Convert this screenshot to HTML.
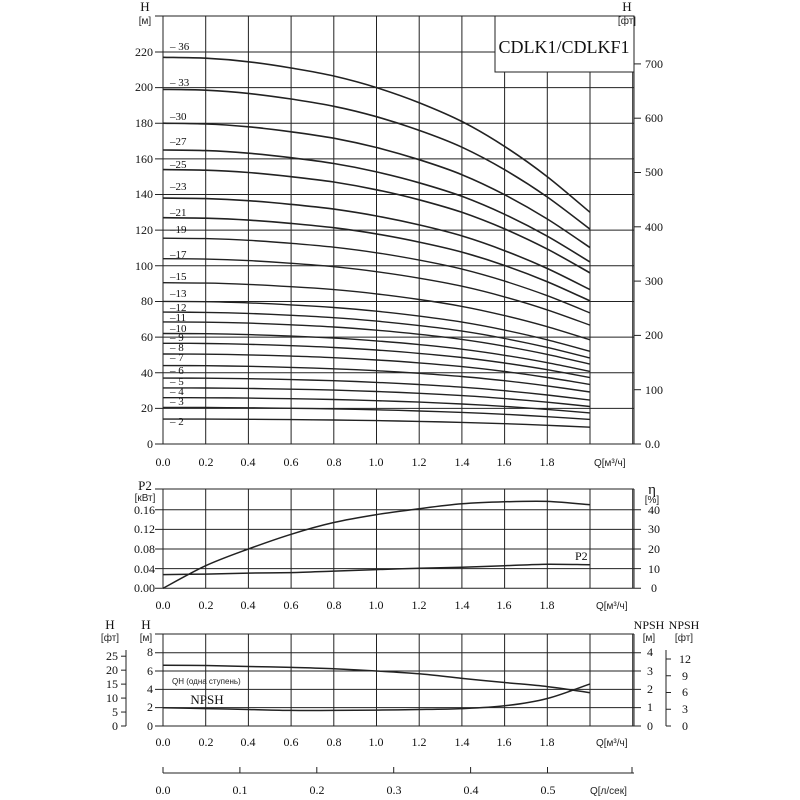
<!DOCTYPE html>
<html><head><meta charset="utf-8"><style>
body{margin:0;background:#fff}
svg{display:block}
.s{font-family:"Liberation Serif",serif;font-size:12px;fill:#111}
.a{font-family:"Liberation Sans",sans-serif;font-size:10px;fill:#222}
</style></head><body>
<svg id="c" width="800" height="800" viewBox="0 0 800 800" xmlns="http://www.w3.org/2000/svg">
<g id="g" stroke="#222" fill="none"></g>
<rect x="495" y="16" width="139" height="56" fill="#fff" stroke="#222" stroke-width="1"/>
<text x="564" y="53" text-anchor="middle" style="font-family:'Liberation Serif',serif;font-size:18px;fill:#111">CDLK1/CDLKF1</text>
<g class="s" text-anchor="end">
<text x="153" y="448">0</text><text x="153" y="412">20</text><text x="153" y="377">40</text><text x="153" y="341">60</text><text x="153" y="305">80</text><text x="153" y="270">100</text><text x="153" y="234">120</text><text x="153" y="198">140</text><text x="153" y="163">160</text><text x="153" y="127">180</text><text x="153" y="91">200</text><text x="153" y="56">220</text>
</g>
<text class="s" x="145" y="11" text-anchor="middle" style="font-size:13px">H</text>
<text class="a" x="145" y="24" text-anchor="middle">[м]</text>
<text class="s" x="627" y="11" text-anchor="middle" style="font-size:13px">H</text>
<text class="a" x="627" y="24" text-anchor="middle">[фт]</text>
<g class="s">
<text x="645" y="448">0.0</text><text x="645" y="394">100</text><text x="645" y="339">200</text><text x="645" y="285">300</text><text x="645" y="231">400</text><text x="645" y="176">500</text><text x="645" y="122">600</text><text x="645" y="68">700</text>
</g>
<g class="s" text-anchor="middle">
<text x="163" y="466">0.0</text><text x="206" y="466">0.2</text><text x="248" y="466">0.4</text><text x="291" y="466">0.6</text><text x="334" y="466">0.8</text><text x="376" y="466">1.0</text><text x="419" y="466">1.2</text><text x="462" y="466">1.4</text><text x="504" y="466">1.6</text><text x="547" y="466">1.8</text>
</g>
<text class="a" x="594" y="466">Q[м³/ч]</text>
<g class="s" style="font-size:11px">
<text x="170" y="425">– 2</text><text x="170" y="405">– 3</text><text x="170" y="395">– 4</text><text x="170" y="385">– 5</text><text x="170" y="374">– 6</text><text x="170" y="361">– 7</text><text x="170" y="351">– 8</text><text x="170" y="341">– 9</text><text x="170" y="332">–10</text><text x="170" y="321">–11</text><text x="170" y="311">–12</text><text x="170" y="297">–13</text><text x="170" y="280">–15</text><text x="170" y="258">–17</text><text x="170" y="233">–19</text><text x="170" y="216">–21</text><text x="170" y="190">–23</text><text x="170" y="168">–25</text><text x="170" y="145">–27</text><text x="170" y="120">–30</text><text x="170" y="86">– 33</text><text x="170" y="50">– 36</text>
</g>
<text class="s" x="145" y="490" text-anchor="middle" style="font-size:13px">P2</text>
<text class="a" x="145" y="501" text-anchor="middle">[кВт]</text>
<g class="s" text-anchor="end">
<text x="155" y="592">0.00</text><text x="155" y="573">0.04</text><text x="155" y="553">0.08</text><text x="155" y="533">0.12</text><text x="155" y="514">0.16</text>
</g>
<text class="s" x="652" y="494" text-anchor="middle" style="font-size:15px">η</text>
<text class="a" x="652" y="503" text-anchor="middle">[%]</text>
<g class="s" text-anchor="middle">
<text x="654" y="592">0</text><text x="654" y="573">10</text><text x="654" y="553">20</text><text x="654" y="533">30</text><text x="654" y="514">40</text>
</g>
<text class="s" x="575" y="560">P2</text>
<g class="s" text-anchor="middle">
<text x="163" y="609">0.0</text><text x="206" y="609">0.2</text><text x="248" y="609">0.4</text><text x="291" y="609">0.6</text><text x="334" y="609">0.8</text><text x="376" y="609">1.0</text><text x="419" y="609">1.2</text><text x="462" y="609">1.4</text><text x="504" y="609">1.6</text><text x="547" y="609">1.8</text>
</g>
<text class="a" x="596" y="609">Q[м³/ч]</text>
<text class="s" x="110" y="629" text-anchor="middle" style="font-size:13px">H</text>
<text class="a" x="110" y="641" text-anchor="middle">[фт]</text>
<text class="s" x="146" y="629" text-anchor="middle" style="font-size:13px">H</text>
<text class="a" x="146" y="641" text-anchor="middle">[м]</text>
<g class="s" text-anchor="end">
<text x="118" y="730">0</text><text x="118" y="716">5</text><text x="118" y="702">10</text><text x="118" y="688">15</text><text x="118" y="674">20</text><text x="118" y="660">25</text>
<text x="153" y="730">0</text><text x="153" y="711">2</text><text x="153" y="693">4</text><text x="153" y="675">6</text><text x="153" y="656">8</text>
</g>
<text class="s" x="649" y="629" text-anchor="middle" style="font-size:12px">NPSH</text>
<text class="a" x="649" y="641" text-anchor="middle">[м]</text>
<text class="s" x="684" y="629" text-anchor="middle" style="font-size:12px">NPSH</text>
<text class="a" x="684" y="641" text-anchor="middle">[фт]</text>
<g class="s" text-anchor="middle">
<text x="650" y="730">0</text><text x="650" y="711">1</text><text x="650" y="693">2</text><text x="650" y="675">3</text><text x="650" y="656">4</text>
<text x="685" y="730">0</text><text x="685" y="713">3</text><text x="685" y="696">6</text><text x="685" y="680">9</text><text x="685" y="663">12</text>
</g>
<text class="a" x="172" y="684" style="font-size:8px">QH (одна ступень)</text>
<text class="s" x="207" y="704" text-anchor="middle" style="font-size:13px">NPSH</text>
<g class="s" text-anchor="middle">
<text x="163" y="746">0.0</text><text x="206" y="746">0.2</text><text x="248" y="746">0.4</text><text x="291" y="746">0.6</text><text x="334" y="746">0.8</text><text x="376" y="746">1.0</text><text x="419" y="746">1.2</text><text x="462" y="746">1.4</text><text x="504" y="746">1.6</text><text x="547" y="746">1.8</text>
</g>
<text class="a" x="596" y="746">Q[м³/ч]</text>
<g class="s" text-anchor="middle">
<text x="163" y="794">0.0</text><text x="240" y="794">0.1</text><text x="317" y="794">0.2</text><text x="394" y="794">0.3</text><text x="471" y="794">0.4</text><text x="548" y="794">0.5</text>
</g>
<text class="a" x="590" y="794">Q[л/сек]</text>
</svg>
<script>
var g=document.getElementById('g'),NS='http://www.w3.org/2000/svg';
function L(x1,y1,x2,y2,w){var e=document.createElementNS(NS,'line');e.setAttribute('x1',x1);e.setAttribute('y1',y1);e.setAttribute('x2',x2);e.setAttribute('y2',y2);e.setAttribute('stroke-width',w||1);g.appendChild(e);}
function P(pts,w){var d='M'+pts[0][0].toFixed(1)+' '+pts[0][1].toFixed(1);
 for(var i=0;i<pts.length-1;i++){var p0=pts[i-1]||pts[i],p1=pts[i],p2=pts[i+1],p3=pts[i+2]||p2;
 d+=' C'+(p1[0]+(p2[0]-p0[0])/6).toFixed(1)+' '+(p1[1]+(p2[1]-p0[1])/6).toFixed(1)+' '+(p2[0]-(p3[0]-p1[0])/6).toFixed(1)+' '+(p2[1]-(p3[1]-p1[1])/6).toFixed(1)+' '+p2[0].toFixed(1)+' '+p2[1].toFixed(1);}
 var e=document.createElementNS(NS,'path');e.setAttribute('d',d);e.setAttribute('stroke-width',w||1.3);g.appendChild(e);}
function X(q){return 163+q*213.5;}
var i,k;
for(i=0;i<=11;i++)L(X(i*0.2),16,X(i*0.2),444);
L(634,16,634,444);
for(k=0;k<=11;k++){var y=444-35.64*k;L(155,y,634,y);}
L(155,16,634,16);
for(k=0;k<=7;k++){var y=444-54.3*k;L(634,y,641,y);}
var H36=[217,216.5,214.5,211,206.5,200,191.5,181,167,150,130];
var st=[[2,14],[3,20.5],[4,26],[5,31.5],[6,37],[7,44],[8,50.5],[9,56.5],[10,62],[11,68.5],[12,74],[13,80],[15,90.5],[17,104],[19,115.5],[21,127],[23,138],[25,154],[27,165],[30,180],[33,199],[36,217]];
st.forEach(function(s){var f=0.8+0.2*s[0]/36,pts=[];
 for(var j=0;j<=10;j++){var r=1-(1-H36[j]/217)*f;pts.push([X(j*0.2),444-1.782*s[1]*r]);}
 P(pts,s[0]>20?1.6:1.4);});
var Y0=588.3;
for(i=0;i<=11;i++)L(X(i*0.2),489,X(i*0.2),Y0);
L(634,489,634,Y0);L(155,489,634,489);
for(k=0;k<=4;k++){var y=Y0-19.65*k;L(155,y,641,y);}
var eta=[0,11.5,20,27.5,33.5,37.5,40.5,43,44,44.2,42.5],p2=[0.028,0.029,0.031,0.032,0.035,0.038,0.041,0.043,0.046,0.049,0.048];
P(eta.map(function(v,j){return [X(j*0.2),Y0-v*1.965];}),1.5);
P(p2.map(function(v,j){return [X(j*0.2),Y0-v*491];}),1.5);
var B=726;
for(i=0;i<=11;i++)L(X(i*0.2),634,X(i*0.2),B);
L(634,634,634,B);L(155,634,634,634);
for(k=0;k<=4;k++){var y=B-18.32*k;L(155,y,641,y);}
L(126,650,126,B);for(k=0;k<=5;k++){var y=B-13.96*k;L(121,y,126,y);}
L(666,650,666,B);for(k=0;k<=4;k++){var y=B-16.75*k;L(666,y,671,y);}
var qh=[6.63,6.6,6.5,6.4,6.25,6.0,5.7,5.2,4.75,4.3,3.64],np=[1.0,0.95,0.9,0.85,0.85,0.87,0.9,0.95,1.1,1.5,2.3];
P(qh.map(function(v,j){return [X(j*0.2),B-v*9.16];}),1.5);
P(np.map(function(v,j){return [X(j*0.2),B-v*18.32];}),1.5);
L(163,773,634,773);
for(k=0;k<=5;k++){var x=163+76.9*k;L(x,767,x,773);}L(632,767,632,773);
</script>
</body></html>
